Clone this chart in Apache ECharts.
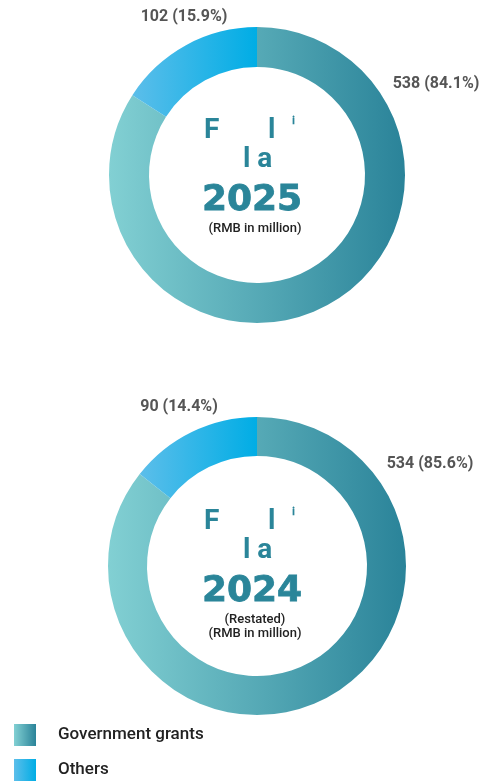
<!DOCTYPE html>
<html>
<head>
<meta charset="utf-8">
<script src="https://cdn.jsdelivr.net/npm/echarts@6/dist/echarts.min.js"></script>
<style>
  html, body { margin: 0; padding: 0; background: #fff; }
  #chart { width: 486px; height: 782px; }
</style>
</head>
<body>
<div id="chart"></div>
<script>
// data
const categories = ["Government grants", "Others"];
const values2025 = [538, 102];
const percents2025 = ["84.1%", "15.9%"];
const values2024 = [534, 90];
const percents2024 = ["85.6%", "14.4%"];
const years = ["2025", "2024"];

// gradients for each slice
const govColor = new echarts.graphic.LinearGradient(0, 0, 1, 0, [
  { offset: 0, color: "#82d0d3" },
  { offset: 1, color: "#2a8399" }
]);
const otherColor = new echarts.graphic.LinearGradient(0, 0, 1, 0, [
  { offset: 0, color: "#5cbeea" },
  { offset: 1, color: "#00ade5" }
]);
const colors = [govColor, otherColor];

// label spots, one per slice, per chart
const labelPos = [
  [[436, 84], [184, 17]],
  [[430, 464], [179, 407]]
];

function makeData(vals, pcts) {
  return categories.map((name, i) => ({
    name: name,
    value: vals[i],
    pct: pcts[i],
    itemStyle: { color: colors[i] }
  }));
}

function makeSeries(idx, center, radius, vals, pcts) {
  return {
    type: "pie",
    center: center,
    radius: radius,
    startAngle: 90,
    clockwise: true,
    silent: true,
    data: makeData(vals, pcts),
    label: {
      show: true,
      position: "outside",
      formatter: (p) => p.value + " (" + p.data.pct + ")",
      color: "#555",
      fontFamily: "Roboto",
      fontWeight: "bold",
      fontSize: 16
    },
    labelLine: { show: false },
    labelLayout: (params) => {
      const pos = labelPos[idx][params.dataIndex];
      return { x: pos[0], y: pos[1], align: "center", verticalAlign: "middle" };
    }
  };
}

function centerText(cy, year, restated) {
  const teal = "#2a8599";
  const els = [
    { type: "text", x: 204, y: cy - 58, style: { text: "F", font: "bold 28px Roboto", fill: teal } },
    { type: "text", x: 268, y: cy - 58, style: { text: "l", font: "bold 28px Roboto", fill: teal } },
    { type: "text", x: 292, y: cy - 60, style: { text: "ⁱ", font: "bold 18px Roboto", fill: teal } },
    { type: "text", x: 243, y: cy - 29, style: { text: "l a", font: "bold 28px Roboto", fill: teal } },
    { type: "text", x: 252, y: cy + 8, style: { text: year, font: "bold 36px 'DejaVu Sans'", fill: teal, align: "center", stroke: teal, lineWidth: 0.8 } }
  ];
  const sub = restated ? "(Restated)\n(RMB in million)" : "(RMB in million)";
  els.push({
    type: "text", x: 255, y: cy + 47,
    style: { text: sub, font: "500 13px Roboto", fill: "#222", align: "center", lineHeight: 14 }
  });
  return els;
}

const chart = echarts.init(document.getElementById("chart"));
const option = {
  animation: false,
  legend: {
    orient: "vertical",
    left: 14,
    top: 724,
    padding: 0,
    itemWidth: 22,
    itemHeight: 22,
    itemGap: 13,
    icon: "rect",
    data: categories,
    textStyle: { color: "#222", fontSize: 17, fontFamily: "Roboto", fontWeight: 500, padding: [0, 0, 0, 17] }
  },
  series: [
    makeSeries(0, [257, 175], [108, 148], values2025, percents2025),
    makeSeries(1, [257, 566], [110, 149], values2024, percents2024)
  ],
  graphic: centerText(175, years[0], false).concat(centerText(566, years[1], true))
};
option && chart.setOption(option);
</script>
</body>
</html>
